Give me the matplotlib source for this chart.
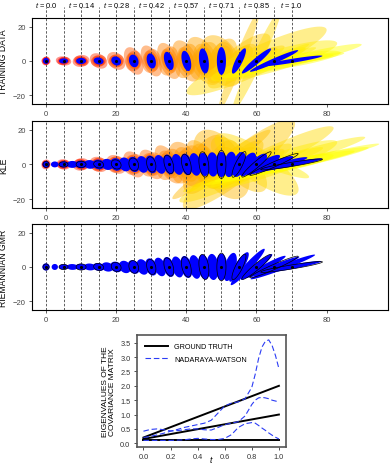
import numpy as np
import matplotlib
matplotlib.use("Agg")
import matplotlib.pyplot as plt
from matplotlib.patches import Polygon

plt.rcParams['font.family'] = ['Liberation Sans', 'DejaVu Sans']
plt.rcParams['mathtext.fontset'] = 'custom'
plt.rcParams['mathtext.it'] = 'Liberation Sans:italic'
plt.rcParams['mathtext.rm'] = 'Liberation Sans'

# ---------------- DATA ----------------
# time steps (centres of the covariance ellipses)
step_x = [0, 5, 10, 15, 20, 25, 30, 35, 40, 45, 50, 55, 60, 65, 70]
step_t = [0.0, 0.071, 0.143, 0.214, 0.286, 0.357, 0.429, 0.5, 0.571,
          0.643, 0.714, 0.786, 0.857, 0.929, 1.0]
label_x = [0, 10, 20, 30, 40, 50, 60, 70]
label_t = ["0.0", "0.14", "0.28", "0.42", "0.57", "0.71", "0.85", "1.0"]

# ground truth covariance (std x, std y, correlation)
gt_sx = [0.85, 1.28, 1.42, 1.41, 1.40, 1.38, 1.32, 1.40, 1.40, 1.42, 1.30, 2.0, 4.18, 6.88, 8.8]
gt_sy = [1.74, 1.50, 1.80, 2.05, 2.65, 3.70, 4.40, 5.30, 5.90, 7.30, 8.10, 7.40, 7.30, 6.30, 3.15]
gt_rho = [0.0, 0.0, 0.0, -0.15, -0.19, -0.18, -0.26, -0.41, -0.41, -0.3, 0.0, 0.83, 0.95, 0.968, 0.926]

# training samples, 4 per step
train_sx = [[0.9, 1.2, 1.3, 1.0], [1.5, 2.2, 1.8, 1.3], [1.8, 2.4, 2.0, 1.6],
            [1.8, 2.5, 2.2, 1.7], [1.9, 2.6, 2.2, 1.8], [1.9, 2.8, 2.4, 1.8],
            [2.0, 3.0, 2.6, 1.9], [2.2, 3.3, 2.8, 2.0], [2.5, 4.0, 3.2, 2.2],
            [3.0, 5.0, 4.0, 2.5], [3.5, 6.0, 4.5, 3.0], [5.0, 9.0, 6.0, 4.0],
            [8.0, 20.0, 7.0, 6.0], [12.0, 18.0, 9.0, 10.0], [15.0, 14.0, 20.0, 12.0]]
train_sy = [[2.2, 2.6, 2.0, 2.4], [2.0, 2.7, 2.4, 2.2], [2.5, 3.5, 3.0, 2.4],
            [3.0, 4.5, 3.5, 2.8], [3.5, 5.2, 4.0, 3.2], [5.0, 8.0, 6.0, 4.5],
            [6.0, 9.0, 7.0, 5.0], [7.0, 10.5, 8.5, 6.0], [8.0, 12.0, 10.0, 7.0],
            [10.0, 14.0, 11.0, 8.0], [11.0, 15.0, 13.0, 9.0], [10.0, 16.0, 30.0, 9.0],
            [9.0, 20.0, 30.0, 8.0], [8.0, 12.0, 8.0, 10.0], [5.0, 6.0, 10.0, 4.0]]
train_rho = [[0.0, 0.1, -0.1, 0.0], [0.0, -0.15, 0.15, 0.0], [-0.1, 0.1, -0.2, 0.0],
             [-0.1, -0.3, 0.1, -0.2], [-0.2, -0.3, 0.1, -0.1], [-0.2, -0.4, 0.1, -0.3],
             [-0.3, -0.5, 0.1, -0.2], [-0.4, -0.5, 0.2, -0.3], [-0.4, -0.5, 0.3, -0.2],
             [-0.3, -0.5, 0.4, -0.1], [0.2, -0.4, 0.5, 0.3], [0.7, 0.8, 0.97, 0.6],
             [0.9, 0.9, 0.97, 0.85], [0.95, 0.85, 0.9, 0.97], [0.9, 0.8, 0.95, 0.85]]

# KLE samples, 4 per step
kle_sx = [[1.0, 1.3, 1.2, 1.1], [1.6, 2.0, 1.8, 1.5], [1.8, 2.4, 2.0, 1.7],
          [2.0, 2.6, 2.2, 1.8], [2.2, 2.8, 2.4, 2.0], [2.4, 3.0, 2.6, 2.2],
          [2.6, 3.4, 3.0, 2.4], [3.0, 4.0, 3.4, 2.6], [3.5, 5.0, 4.0, 3.0],
          [4.0, 6.0, 5.0, 3.5], [5.0, 8.0, 14.0, 4.0], [7.0, 16.0, 8.0, 6.0],
          [10.0, 22.0, 12.0, 8.0], [14.0, 26.0, 18.0, 10.0], [18.0, 25.0, 22.0, 12.0]]
kle_sy = [[2.2, 2.8, 2.4, 2.0], [2.4, 3.0, 2.6, 2.2], [3.0, 3.6, 3.2, 2.6],
          [3.6, 4.4, 4.0, 3.2], [4.4, 5.4, 4.8, 3.8], [5.5, 7.5, 6.0, 4.6],
          [6.5, 8.5, 7.0, 5.5], [8.0, 11.0, 9.0, 6.5], [10.0, 13.0, 11.0, 8.0],
          [12.0, 17.0, 14.0, 9.0], [14.0, 20.0, 20.0, 10.0], [14.0, 26.0, 16.0, 10.0],
          [12.0, 22.0, 18.0, 9.0], [10.0, 16.0, 14.0, 8.0], [8.0, 12.0, 10.0, 6.0]]
kle_rho = [[0.0, 0.1, -0.1, 0.0], [0.0, -0.1, 0.1, 0.0], [-0.1, 0.1, -0.15, 0.0],
           [-0.1, -0.2, 0.1, -0.1], [-0.2, -0.3, 0.1, -0.1], [-0.2, -0.4, 0.2, -0.3],
           [-0.3, -0.5, 0.2, -0.2], [-0.4, -0.6, 0.3, -0.3], [-0.4, -0.5, 0.4, -0.2],
           [-0.3, 0.6, -0.6, -0.1], [0.5, -0.5, 0.97, 0.3], [0.8, 0.9, -0.7, 0.6],
           [0.9, 0.95, -0.8, 0.85], [0.95, 0.97, 0.9, -0.9], [0.95, 0.98, 0.96, 0.85]]

# predicted covariances on a finer grid
pred_x = [0, 2.5, 5, 7.5, 10, 12.5, 15, 17.5, 20, 22.5, 25, 27.5, 30, 32.5, 35,
          37.5, 40, 42.5, 45, 47.5, 50, 52.5, 55, 57.5, 60, 62.5, 65, 67.5, 70]
kle_pred_sx = [1.0, 1.1, 1.4, 1.6, 1.7, 1.7, 1.7, 1.7, 1.7, 1.7, 1.7, 1.7, 1.7, 1.7, 1.7,
               1.7, 1.7, 1.7, 1.7, 1.7, 1.7, 1.8, 2.0, 2.4, 3.0, 4.2, 5.5, 7.0, 8.8]
kle_pred_sy = [1.9, 1.7, 1.8, 2.0, 2.2, 2.5, 2.8, 3.2, 3.6, 4.0, 4.4, 4.8, 5.1, 5.4, 5.7,
               6.0, 6.2, 6.5, 6.7, 7.0, 7.3, 7.3, 7.2, 6.8, 6.2, 5.5, 4.8, 4.2, 3.5]
kle_pred_rho = [0.0, 0.0, 0.0, 0.0, -0.05, -0.08, -0.1, -0.12, -0.15, -0.18, -0.2, -0.22, -0.25,
                -0.28, -0.3, -0.3, -0.28, -0.25, -0.2, -0.1, 0.0, 0.2, 0.4, 0.6, 0.75, 0.85,
                0.9, 0.92, 0.93]
gmr_pred_sx = [1.05, 0.9, 1.35, 1.6, 1.7, 1.7, 1.7, 1.7, 1.7, 1.7, 1.7, 1.7, 1.7, 1.7, 1.7,
               1.7, 1.7, 1.7, 1.7, 1.7, 1.7, 1.9, 2.8, 4.85, 4.5, 5.8, 7.2, 9.2, 8.5]
gmr_pred_sy = [2.1, 1.75, 1.6, 1.7, 1.8, 2.0, 2.3, 2.7, 3.1, 3.6, 4.0, 4.5, 5.0, 5.4, 5.8,
               6.1, 6.4, 6.9, 7.3, 7.6, 7.8, 8.2, 8.6, 10.6, 7.5, 6.5, 6.0, 7.2, 3.5]
gmr_pred_rho = [0.0, 0.0, 0.0, -0.05, -0.08, -0.1, -0.15, -0.18, -0.2, -0.22, -0.25, -0.28, -0.3,
                -0.33, -0.35, -0.35, -0.33, -0.3, -0.25, -0.15, 0.0, 0.5, 0.85, 0.96, 0.95, 0.96,
                0.97, 0.975, 0.93]

# eigenvalues
gt_t = [0.0, 1.0]
gt_eig = [[0.1, 0.1], [0.15, 1.0], [0.2, 2.0]]
nw_t = [0.0, 0.05, 0.1, 0.15, 0.2, 0.25, 0.3, 0.35, 0.4, 0.45, 0.5, 0.55, 0.6, 0.65, 0.7,
        0.75, 0.8, 0.825, 0.85, 0.875, 0.9, 0.925, 0.95, 0.975, 1.0]
nw_eig = [[0.2, 0.24, 0.29, 0.35, 0.42, 0.48, 0.55, 0.6, 0.65, 0.7, 0.8, 1.05, 1.3, 1.4, 1.44,
           1.55, 1.95, 2.4, 2.95, 3.35, 3.55, 3.6, 3.4, 3.05, 2.6],
          [0.42, 0.48, 0.5, 0.47, 0.43, 0.44, 0.47, 0.5, 0.5, 0.47, 0.46, 0.55, 0.65, 0.7, 0.75,
           0.95, 1.35, 1.5, 1.58, 1.6, 1.58, 1.55, 1.5, 1.47, 1.44],
          [0.1, 0.1, 0.1, 0.1, 0.1, 0.11, 0.12, 0.15, 0.17, 0.15, 0.13, 0.13, 0.17, 0.3, 0.55,
           0.68, 0.72, 0.7, 0.62, 0.53, 0.45, 0.36, 0.28, 0.21, 0.15]]


def cov_ellipse(ax, cx, sx, sy, rho, **kw):
    C = np.array([[sx * sx, rho * sx * sy], [rho * sx * sy, sy * sy]])
    vals, vecs = np.linalg.eigh(C)
    s = np.linspace(0, 2 * np.pi, 90)
    pts = vecs @ (np.sqrt(np.clip(vals, 0, None))[:, None] * np.vstack([np.cos(s), np.sin(s)]))
    ax.add_patch(Polygon(np.column_stack([cx + pts[0], pts[1]]), closed=True, **kw))


def setup(ax, name):
    ax.set_xlim(-4, 97.5)
    ax.set_ylim(-25, 25)
    ax.set_xticks([0, 20, 40, 60, 80])
    ax.set_yticks([-20, 0, 20])
    ax.tick_params(labelsize=5.5, colors='#444444', length=2.5, width=0.6, pad=2)
    for sp in ax.spines.values():
        sp.set_linewidth(0.8)
    ax.set_ylabel(name, fontsize=6.2, labelpad=2)
    ax.yaxis.set_label_coords(-0.068, 0.5)


fig = plt.figure(figsize=(3.9, 4.64), dpi=100)
ax1 = fig.add_axes([0.082, 0.774, 0.913, 0.185])
ax2 = fig.add_axes([0.082, 0.550, 0.913, 0.187])
ax3 = fig.add_axes([0.082, 0.330, 0.913, 0.185])
ax4 = fig.add_axes([0.3505, 0.0351, 0.382, 0.2414])

cmap = plt.cm.autumn

# TRAINING DATA
for i in range(len(step_x)):
    for k in range(4):
        cov_ellipse(ax1, step_x[i], train_sx[i][k], train_sy[i][k], train_rho[i][k],
                    facecolor=cmap(step_t[i]), edgecolor='none', alpha=0.45, zorder=1)
for i in range(len(step_x)):
    cov_ellipse(ax1, step_x[i], gt_sx[i], gt_sy[i], gt_rho[i],
                facecolor='blue', edgecolor='none', zorder=3)
for i in range(len(step_x)):
    ax1.axvline(step_x[i], ymin=0, ymax=1.13, color='#444444', ls='--', lw=0.6,
                dashes=(3, 2), clip_on=False, zorder=2)
for i in range(len(label_x)):
    ax1.text(label_x[i], 1.16, "$t$ = " + label_t[i], transform=ax1.get_xaxis_transform(),
             ha='center', va='center', fontsize=5.4)
ax1.plot(step_x, [0] * len(step_x), 'k.', markersize=2.5, zorder=4)
setup(ax1, "TRAINING DATA")

# KLE
for i in range(len(step_x)):
    for k in range(4):
        cov_ellipse(ax2, step_x[i], kle_sx[i][k], kle_sy[i][k], kle_rho[i][k],
                    facecolor=cmap(step_t[i]), edgecolor='none', alpha=0.45, zorder=1)
for j in range(len(pred_x)):
    cov_ellipse(ax2, pred_x[j], kle_pred_sx[j], kle_pred_sy[j], kle_pred_rho[j],
                facecolor='blue', edgecolor='none', zorder=3)
for i in range(len(step_x)):
    cov_ellipse(ax2, step_x[i], gt_sx[i], gt_sy[i], gt_rho[i],
                facecolor='none', edgecolor='black', lw=0.5, zorder=4)
    ax2.axvline(step_x[i], color='#444444', ls='--', lw=0.6, dashes=(3, 2), zorder=2)
ax2.plot(step_x, [0] * len(step_x), 'k.', markersize=2.5, zorder=5)
setup(ax2, "KLE")

# RIEMANNIAN GMR
for j in range(len(pred_x)):
    cov_ellipse(ax3, pred_x[j], gmr_pred_sx[j], gmr_pred_sy[j], gmr_pred_rho[j],
                facecolor='blue', edgecolor='none', zorder=3)
for i in range(len(step_x)):
    cov_ellipse(ax3, step_x[i], gt_sx[i], gt_sy[i], gt_rho[i],
                facecolor='none', edgecolor='black', lw=0.5, zorder=4)
    ax3.axvline(step_x[i], color='#444444', ls='--', lw=0.6, dashes=(3, 2), zorder=2)
ax3.plot(step_x, [0] * len(step_x), 'k.', markersize=2.5, zorder=5)
setup(ax3, "RIEMANNIAN GMR")

# EIGENVALUES
for e in range(3):
    ax4.plot(gt_t, gt_eig[e], color='black', lw=1.4,
             label="GROUND TRUTH" if e == 0 else None)
for e in range(3):
    ax4.plot(nw_t, nw_eig[e], color='#2b3cf5', lw=0.8, dashes=(5, 2.5),
             label="NADARAYA-WATSON" if e == 0 else None)
ax4.set_xlim(-0.05, 1.05)
ax4.set_ylim(-0.12, 3.78)
ax4.set_xticks([0.0, 0.2, 0.4, 0.6, 0.8, 1.0])
ax4.set_yticks([0.0, 0.5, 1.0, 1.5, 2.0, 2.5, 3.0, 3.5])
ax4.tick_params(labelsize=5.3, colors='#333333', length=2.5, width=0.6, pad=2)
for sp in ax4.spines.values():
    sp.set_linewidth(1.2)
    sp.set_color('#555555')
ax4.set_xlabel("$t$", fontsize=6.2)
ax4.xaxis.set_label_coords(0.5, -0.055)
ax4.set_ylabel("EIGENVALUES OF THE\nCOVARIANCE MATRIX", fontsize=6, labelpad=3,
               linespacing=0.95)
ax4.legend(loc='upper left', frameon=False, fontsize=5.2, handlelength=3.2,
           borderaxespad=0.8, labelspacing=0.75)

fig.savefig("out.png", dpi=100)
